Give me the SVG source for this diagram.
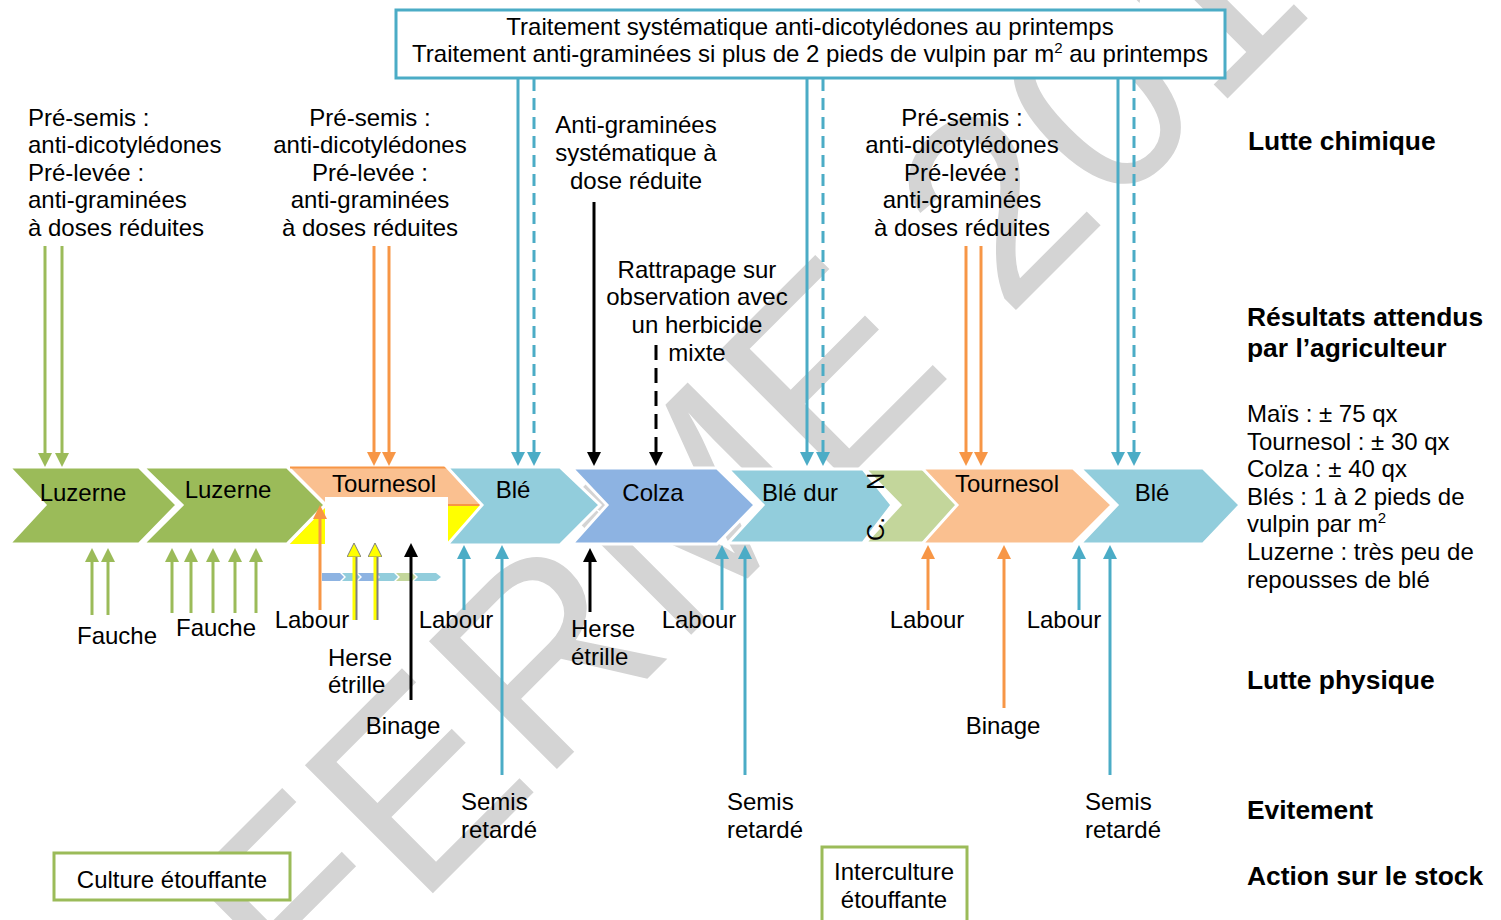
<svg xmlns="http://www.w3.org/2000/svg" width="1501" height="920" viewBox="0 0 1501 920">
<defs>
<style>
text{font-family:"Liberation Sans",Arial,sans-serif;font-size:24px;fill:#000}
.c{text-anchor:middle}
.b{font-weight:bold;font-size:26.4px}
.wm{font-size:263px;fill:#d4d4d4}
.chev{stroke:#fff;stroke-width:3}
.ln{fill:none;stroke-width:3}
.g{stroke:#9bbb59}.o{stroke:#f79646}.bl{stroke:#4bacc6}.k{stroke:#000}.y{stroke:#ffff00}.sh{stroke:#7f7f7f}
.d{stroke-dasharray:12,7}
</style>
<marker id="mg" viewBox="0 0 14 14" markerWidth="14" markerHeight="14" markerUnits="userSpaceOnUse" refX="2" refY="7" orient="auto"><path d="M0,0L14,7L0,14z" fill="#9bbb59"/></marker>
<marker id="mo" viewBox="0 0 14 14" markerWidth="14" markerHeight="14" markerUnits="userSpaceOnUse" refX="2" refY="7" orient="auto"><path d="M0,0L14,7L0,14z" fill="#f79646"/></marker>
<marker id="mb" viewBox="0 0 14 14" markerWidth="14" markerHeight="14" markerUnits="userSpaceOnUse" refX="2" refY="7" orient="auto"><path d="M0,0L14,7L0,14z" fill="#4bacc6"/></marker>
<marker id="mk" viewBox="0 0 14 14" markerWidth="14" markerHeight="14" markerUnits="userSpaceOnUse" refX="2" refY="7" orient="auto"><path d="M0,0L14,7L0,14z" fill="#000"/></marker>
<marker id="my" viewBox="0 0 14 14" markerWidth="14" markerHeight="14" markerUnits="userSpaceOnUse" refX="2" refY="7" orient="auto"><path d="M0,0L14,7L0,14z" fill="#ffff00" stroke="#7f7f7f" stroke-width="1"/></marker>
</defs>
<rect width="1501" height="920" fill="#fff"/>
<text class="wm" x="304" y="1022" transform="rotate(-45 304 1022)">FERME 201</text>

<g id="top-box">
<rect x="396" y="10" width="829" height="68" fill="#fff" stroke="#4bacc6" stroke-width="3"/>
<text class="c" x="810" y="35">Traitement systématique anti-dicotylédones au printemps</text>
<text class="c" x="810" y="62">Traitement anti-graminées si plus de 2 pieds de vulpin par m<tspan dy="-9" font-size="15">2</tspan><tspan dy="9"> au printemps</tspan></text>
</g>

<g id="chevrons">
<g id="luzerne1"><polygon class="chev" points="9,467 139,467 177,505 139,544 9,544 45,505" fill="#9bbb59"/><text class="c" x="83" y="501">Luzerne</text></g>
<g id="luzerne2"><polygon class="chev" points="143,467 287,467 325,505 287,544 143,544 182,505" fill="#9bbb59"/><text class="c" x="228" y="498">Luzerne</text></g>
<g id="tournesol1">
<polygon points="290,467 448,467 482,505 448,544 290,544 328,505" fill="#fac090"/>
<polygon points="328,505 482,505 448,544 290,544" fill="#ffff00"/>
<line x1="290" y1="467.5" x2="448" y2="467.5" stroke="#f79646" stroke-width="2"/>
<line x1="328" y1="505" x2="482" y2="505" stroke="#f79646" stroke-width="2"/>
<rect x="325" y="497" width="123" height="95" fill="#fff"/>
<text class="c" x="384" y="492">Tournesol</text>
<g id="thumb">
<polygon points="322,573 340,573 344,577 340,581 322,581" fill="#8db3e2"/>
<polygon points="342,573 356,573 360,577 356,581 342,581 346,577" fill="#92cddc"/>
<polygon points="358,573 374,573 378,577 374,581 358,581 362,577" fill="#8db3e2"/>
<polygon points="376,573 394,573 398,577 394,581 376,581 380,577" fill="#92cddc"/>
<polygon points="396,573 412,573 416,577 412,581 396,581 400,577" fill="#c3d69b"/>
<polygon points="414,573 436,573 441,577 436,581 414,581 418,577" fill="#92cddc"/>
</g>
</g>
<g id="ble1"><polygon class="chev" points="447,467 560,467 600,505 560,545 447,545 482,505" fill="#92cddc"/><text class="c" x="513" y="498">Blé</text></g>
<g id="colza"><polygon class="chev" points="572,468 717,468 755,505 717,544 572,544 607,505" fill="#8db3e2"/><text class="c" x="653" y="501">Colza</text></g>
<g id="bledur"><polygon class="chev" points="728,469 863,469 892,505 863,543 728,543 763,505" fill="#92cddc"/><text class="c" x="800" y="501">Blé dur</text></g>
<g id="interculture"><polygon class="chev" points="865,469 960,469 998,505 960,543 865,543 900,505" fill="#c3d69b"/><text x="884" y="541" font-size="19" transform="rotate(-90 884 541)">C.<tspan dx="27">N</tspan></text></g>
<g id="tournesol2"><polygon class="chev" points="922,468 1073,468 1112,505 1073,544 922,544 957,505" fill="#fac090"/><text class="c" x="1007" y="492">Tournesol</text></g>
<g id="ble2"><polygon class="chev" points="1080,468 1203,468 1240,505 1203,544 1080,544 1117,505" fill="#92cddc"/><text class="c" x="1152" y="501">Blé</text></g>
</g>

<g id="connectors">
<line class="ln g" x1="45" y1="246" x2="45" y2="455" marker-end="url(#mg)"/>
<line class="ln g" x1="62" y1="246" x2="62" y2="455" marker-end="url(#mg)"/>
<line class="ln g" x1="92" y1="615" x2="92" y2="560" marker-end="url(#mg)"/>
<line class="ln g" x1="108" y1="615" x2="108" y2="560" marker-end="url(#mg)"/>
<line class="ln g" x1="172" y1="613" x2="172" y2="560" marker-end="url(#mg)"/>
<line class="ln g" x1="191" y1="613" x2="191" y2="560" marker-end="url(#mg)"/>
<line class="ln g" x1="213" y1="613" x2="213" y2="560" marker-end="url(#mg)"/>
<line class="ln g" x1="235" y1="613" x2="235" y2="560" marker-end="url(#mg)"/>
<line class="ln g" x1="256" y1="613" x2="256" y2="560" marker-end="url(#mg)"/>

<line class="ln o" x1="374" y1="246" x2="374" y2="454" marker-end="url(#mo)"/>
<line class="ln o" x1="389" y1="246" x2="389" y2="454" marker-end="url(#mo)"/>
<line class="ln o" x1="320" y1="610" x2="320" y2="517" marker-end="url(#mo)"/>
<line class="ln sh" x1="356" y1="620" x2="356" y2="556"/>
<line class="ln sh" x1="377" y1="620" x2="377" y2="556"/>
<line class="ln y" x1="354" y1="620" x2="354" y2="555" marker-end="url(#my)"/>
<line class="ln y" x1="375" y1="620" x2="375" y2="555" marker-end="url(#my)"/>
<line class="ln k" x1="411" y1="700" x2="411" y2="555" marker-end="url(#mk)"/>

<line class="ln bl" x1="518" y1="79" x2="518" y2="454" marker-end="url(#mb)"/>
<line class="ln bl d" x1="534" y1="79" x2="534" y2="454" marker-end="url(#mb)"/>
<line class="ln bl" x1="807" y1="79" x2="807" y2="454" marker-end="url(#mb)"/>
<line class="ln bl d" x1="823" y1="79" x2="823" y2="454" marker-end="url(#mb)"/>
<line class="ln bl" x1="1118" y1="79" x2="1118" y2="454" marker-end="url(#mb)"/>
<line class="ln bl d" x1="1134" y1="79" x2="1134" y2="454" marker-end="url(#mb)"/>

<line class="ln bl" x1="464" y1="610" x2="464" y2="557" marker-end="url(#mb)"/>
<line class="ln bl" x1="502" y1="775" x2="502" y2="557" marker-end="url(#mb)"/>
<line class="ln bl" x1="722" y1="610" x2="722" y2="557" marker-end="url(#mb)"/>
<line class="ln bl" x1="745" y1="775" x2="745" y2="557" marker-end="url(#mb)"/>
<line class="ln bl" x1="1079" y1="610" x2="1079" y2="557" marker-end="url(#mb)"/>
<line class="ln bl" x1="1110" y1="775" x2="1110" y2="557" marker-end="url(#mb)"/>

<line class="ln o" x1="928" y1="610" x2="928" y2="557" marker-end="url(#mo)"/>
<line class="ln o" x1="1004" y1="708" x2="1004" y2="557" marker-end="url(#mo)"/>
<line class="ln o" x1="966" y1="246" x2="966" y2="454" marker-end="url(#mo)"/>
<line class="ln o" x1="981" y1="246" x2="981" y2="454" marker-end="url(#mo)"/>

<line class="ln k" x1="594" y1="202" x2="594" y2="454" marker-end="url(#mk)"/>
<line class="ln k" x1="656" y1="345" x2="656" y2="454" stroke-dasharray="15,8" marker-end="url(#mk)"/>
<line class="ln k" x1="590" y1="612" x2="590" y2="560" marker-end="url(#mk)"/>
</g>

<g id="labels-top">
<text x="28" y="126">Pré-semis :</text>
<text x="28" y="153">anti-dicotylédones</text>
<text x="28" y="181">Pré-levée :</text>
<text x="28" y="208">anti-graminées</text>
<text x="28" y="236">à doses réduites</text>

<text class="c" x="370" y="126">Pré-semis :</text>
<text class="c" x="370" y="153">anti-dicotylédones</text>
<text class="c" x="370" y="181">Pré-levée :</text>
<text class="c" x="370" y="208">anti-graminées</text>
<text class="c" x="370" y="236">à doses réduites</text>

<text class="c" x="636" y="133">Anti-graminées</text>
<text class="c" x="636" y="161">systématique à</text>
<text class="c" x="636" y="189">dose réduite</text>

<text class="c" x="697" y="278">Rattrapage sur</text>
<text class="c" x="697" y="305">observation avec</text>
<text class="c" x="697" y="333">un herbicide</text>
<text class="c" x="697" y="361">mixte</text>

<text class="c" x="962" y="126">Pré-semis :</text>
<text class="c" x="962" y="153">anti-dicotylédones</text>
<text class="c" x="962" y="181">Pré-levée :</text>
<text class="c" x="962" y="208">anti-graminées</text>
<text class="c" x="962" y="236">à doses réduites</text>
</g>

<g id="labels-bottom">
<text class="c" x="117" y="644">Fauche</text>
<text class="c" x="216" y="636">Fauche</text>
<text class="c" x="312" y="628">Labour</text>
<text x="328" y="666">Herse</text>
<text x="328" y="693">étrille</text>
<text class="c" x="403" y="734">Binage</text>
<text class="c" x="456" y="628">Labour</text>
<text x="461" y="810">Semis</text>
<text x="461" y="838">retardé</text>
<text x="571" y="637">Herse</text>
<text x="571" y="665">étrille</text>
<text class="c" x="699" y="628">Labour</text>
<text x="727" y="810">Semis</text>
<text x="727" y="838">retardé</text>
<text class="c" x="927" y="628">Labour</text>
<text class="c" x="1064" y="628">Labour</text>
<text class="c" x="1003" y="734">Binage</text>
<text x="1085" y="810">Semis</text>
<text x="1085" y="838">retardé</text>
</g>

<g id="box-culture">
<rect x="54" y="853" width="236" height="47" fill="#fff" stroke="#9bbb59" stroke-width="3"/>
<text class="c" x="172" y="888">Culture étouffante</text>
</g>
<g id="box-interculture">
<rect x="822" y="847" width="145" height="80" fill="#fff" stroke="#9bbb59" stroke-width="3"/>
<text class="c" x="894" y="880">Interculture</text>
<text class="c" x="894" y="908">étouffante</text>
</g>

<g id="legend">
<text class="b" x="1248" y="150">Lutte chimique</text>
<text class="b" x="1247" y="326">Résultats attendus</text>
<text class="b" x="1247" y="357">par l’agriculteur</text>
<text x="1247" y="422">Maïs : ± 75 qx</text>
<text x="1247" y="450">Tournesol : ± 30 qx</text>
<text x="1247" y="477">Colza : ± 40 qx</text>
<text x="1247" y="505">Blés : 1 à 2 pieds de</text>
<text x="1247" y="532">vulpin par m<tspan dy="-9" font-size="15">2</tspan></text>
<text x="1247" y="560">Luzerne : très peu de</text>
<text x="1247" y="588">repousses de blé</text>
<text class="b" x="1247" y="689">Lutte physique</text>
<text class="b" x="1247" y="819">Evitement</text>
<text class="b" x="1247" y="885">Action sur le stock</text>
</g>
</svg>
